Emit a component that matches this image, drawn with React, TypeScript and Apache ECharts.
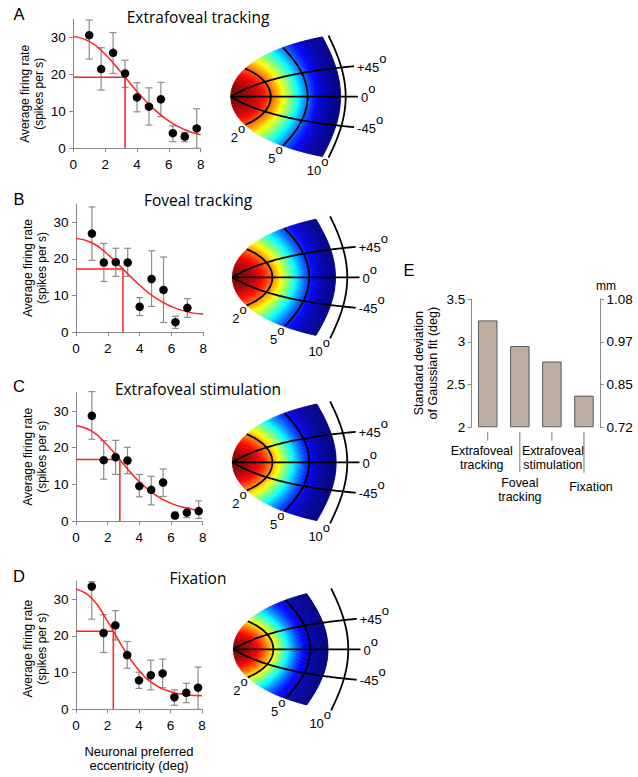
import React, { useEffect, useRef } from 'react';
import * as echarts from 'echarts';

// ---------------- data ----------------
const panelLetters = ['A', 'B', 'C', 'D'];
const panelTitles = ['Extrafoveal tracking', 'Foveal tracking', 'Extrafoveal stimulation', 'Fixation'];
const eccentricities = [1, 1.75, 2.5, 3.25, 4, 4.75, 5.5, 6.25, 7, 7.75];
const fitEccentricities = [0, 1, 2, 3, 4, 5, 6, 7, 8];
const rateTicks = [0, 10, 20, 30];

const ratesA = [30.7, 21.5, 25.9, 20.3, 13.8, 11.3, 13.3, 4.1, 3.2, 5.4];
const errLowA = [24.2, 15.8, 20.3, 16.5, 9.9, 6.3, 8.6, 1.8, 1.8, 0];
const errHighA = [34.8, 27.3, 31.4, 23.9, 17.8, 16.4, 17.9, 6.1, 4.3, 10.7];
const fitA = [30.3, 29.0, 25.5, 20.6, 15.4, 10.9, 7.4, 5.05, 3.65];

const ratesB = [26.9, 19.0, 19.1, 19.0, 6.9, 14.5, 11.5, 2.7, 6.6];
const errLowB = [19.6, 13.8, 15.2, 15.2, 4.5, 7.0, 2.6, 1.0, 4.0];
const errHighB = [34.2, 24.2, 22.9, 22.9, 9.4, 22.2, 20.5, 4.3, 9.1];
const fitB = [25.6, 24.4, 21.2, 17.0, 12.8, 9.3, 6.95, 5.5, 4.9];

const ratesC = [28.7, 16.6, 17.4, 16.5, 9.5, 8.5, 10.5, 1.5, 2.3, 2.7];
const errLowC = [22.3, 11.4, 12.7, 12.9, 6.6, 4.4, 6.7, 0.7, 0.9, 0.7];
const errHighC = [35.3, 21.9, 22.0, 20.1, 12.7, 12.2, 14.2, 2.4, 3.6, 5.5];
const fitC = [26.0, 24.5, 20.6, 15.5, 10.7, 7.1, 4.8, 3.5, 2.9];

const ratesD = [33.5, 20.8, 22.9, 14.8, 7.9, 9.3, 9.8, 3.3, 4.5, 5.9];
const errLowD = [24.6, 15.5, 18.9, 11.2, 5.7, 5.3, 5.9, 1.1, 1.8, 0];
const errHighD = [34.8, 25.8, 26.9, 18.5, 10.1, 13.4, 13.7, 5.3, 7.1, 11.5];
const fitD = [32.8, 30.3, 24.05, 16.7, 10.6, 6.75, 4.8, 4.0, 3.7];

// Gaussian fit: standard deviation (deg) and the fit's level at one SD
const sigmaDeg = [3.25, 2.95, 2.77, 2.37];
const sigmaLevel = [19.3, 17.2, 16.8, 21.3];
// eccentricity reached by the coloured population map
const mapExtentDeg = [9.2, 8.2, 8.3, 7.05];
const isoEccentricities = [2, 5, 10];
const isoDirections = [45, 0, -45];

const barCategories = ['Extrafoveal\ntracking', 'Foveal\ntracking', 'Extrafoveal\nstimulation', 'Fixation'];
const sdTicks = [2, 2.5, 3, 3.5];
const mmTickLabels = ['0.72', '0.85', '0.97', '1.08'];

// ---------------- styling / layout ----------------
const FONT = '"Liberation Sans", Arial, Helvetica, sans-serif';
const TITLE_FONT = '"Open Sans", "Noto Sans", sans-serif';
const AXIS_GRAY = '#8a8a8a';
const ERR_GRAY = '#8c8c8c';
const RED = '#ff2020';
const BAR_FILL = '#bdada2';

function jetHex(t: number) {
  const c = (x: number) => Math.round(255 * Math.max(0, Math.min(1, x)));
  const r = c(1.5 - Math.abs(4 * t - 3));
  const g = c(1.5 - Math.abs(4 * t - 2));
  const b = c(1.5 - Math.abs(4 * t - 1));
  return `rgb(${r},${g},${b})`;
}
const COLOR_GAMMA = 1.22;
const JET_SCALE = Array.from({ length: 49 }, (_, k) => jetHex(Math.pow(k / 48, COLOR_GAMMA)));

const plotGrids = [
  { left: 73.3, top: 19.3, width: 127.4, height: 129 },
  { left: 76, top: 204, width: 127.3, height: 128 },
  { left: 76, top: 392.7, width: 126.7, height: 128.3 },
  { left: 76, top: 581, width: 126, height: 128.3 },
];
const yNameShift = [20, 0, 0, 7];
const mapVertices = [
  [230.7, 96.7],
  [232.3, 277.3],
  [232.3, 462.3],
  [233.3, 649.3],
];
const U_SCALE = 56; // px per mm (rostro-caudal)
const V_SCALE = 26.5; // px per mm (medio-lateral)
const U_RANGE = [0, 2.6];
const V_RANGE = [-2.9, 2.9];
const BAND_STEP = 0.1;
const DIR_LINE_LEN = 12.2;
const letterY = [14.2, 199, 385.8, 576];
const titleY = [16.7, 200.3, 388.7, 577.5];
const barLabelDx = [-6, 0, 1, 7];
const barLabelDy = [30.5, 62.5, 30.5, 59.4];
const leaderLen = [13.4, 45, 13.4, 45.5];

function scMap(R: number, phiDeg: number): number[] {
  const p = (phiDeg * Math.PI) / 180;
  const x = R * Math.cos(p) + 3;
  const y = R * Math.sin(p);
  return [1.4 * Math.log(Math.hypot(x, y) / 3), 1.8 * Math.atan2(y, x)];
}

function buildBands(sigma: number, extent: number) {
  const n = Math.ceil(extent / BAND_STEP - 1e-6);
  const rows: number[][] = [];
  for (let k = 0; k < n; k++) {
    const r0 = k * BAND_STEP;
    const r1 = Math.min((k + 1) * BAND_STEP, extent);
    const mid = (r0 + r1) / 2;
    rows.push([r0, r1, Math.exp(-(mid * mid) / (2 * sigma * sigma))]);
  }
  return rows;
}

const panels = [
  { rates: ratesA, low: errLowA, high: errHighA, fit: fitA },
  { rates: ratesB, low: errLowB, high: errHighB, fit: fitB },
  { rates: ratesC, low: errLowC, high: errHighC, fit: fitC },
  { rates: ratesD, low: errLowD, high: errHighD, fit: fitD },
];

function buildOption() {
  const grid: any[] = [];
  const xAxis: any[] = [];
  const yAxis: any[] = [];
  const series: any[] = [];
  const bandSeries: number[] = [];

  panels.forEach((p, i) => {
    grid.push({ ...plotGrids[i], containLabel: false });
    xAxis.push({
      gridIndex: i,
      type: 'value',
      min: 0,
      max: 8,
      interval: 2,
      axisLine: { lineStyle: { color: AXIS_GRAY, width: 1 } },
      axisTick: { length: 4, lineStyle: { color: AXIS_GRAY } },
      axisLabel: { color: '#000', fontSize: 13.5, fontFamily: FONT, margin: 9 },
      splitLine: { show: false },
      ...(i === 3
        ? {
            name: 'Neuronal preferred\neccentricity (deg)',
            nameLocation: 'middle',
            nameGap: 35,
            nameTextStyle: { color: '#000', fontSize: 13, fontFamily: FONT, lineHeight: 14 },
          }
        : {}),
    });
    yAxis.push({
      gridIndex: i,
      type: 'value',
      min: 0,
      max: 35,
      interval: 10,
      axisLine: { show: true, lineStyle: { color: AXIS_GRAY, width: 1 } },
      axisTick: { show: true, length: 4, customValues: rateTicks, lineStyle: { color: AXIS_GRAY } },
      axisLabel: { color: '#000', fontSize: 13.5, fontFamily: FONT, margin: 7.5, customValues: rateTicks },
      splitLine: { show: false },
      name: 'Average firing rate\n(spikes per s)',
      nameLocation: 'middle',
      nameRotate: 90,
      nameGap: 27,
      nameTextStyle: {
        color: '#000',
        fontSize: 12,
        fontFamily: FONT,
        lineHeight: 14,
        padding: [0, yNameShift[i], 0, 0],
      },
    });

    const ecc = eccentricities.slice(0, p.rates.length);
    series.push({
      type: 'custom',
      xAxisIndex: i,
      yAxisIndex: i,
      z: 2,
      data: ecc.map((x, k) => [x, p.low[k], p.high[k]]),
      renderItem: (_params: any, api: any) => {
        const lo = api.coord([api.value(0), api.value(1)]);
        const hi = api.coord([api.value(0), api.value(2)]);
        const w = 3.5;
        const st = { stroke: ERR_GRAY, lineWidth: 1.2 };
        return {
          type: 'group',
          children: [
            { type: 'line', shape: { x1: lo[0], y1: lo[1], x2: hi[0], y2: hi[1] }, style: st },
            { type: 'line', shape: { x1: hi[0] - w, y1: hi[1], x2: hi[0] + w, y2: hi[1] }, style: st },
            { type: 'line', shape: { x1: lo[0] - w, y1: lo[1], x2: lo[0] + w, y2: lo[1] }, style: st },
          ],
        };
      },
    });
    series.push({
      type: 'line',
      xAxisIndex: i,
      yAxisIndex: i,
      z: 3,
      smooth: 0.5,
      symbol: 'none',
      data: fitEccentricities.map((x, k) => [x, p.fit[k]]),
      lineStyle: { color: RED, width: 1.5 },
    });
    series.push({
      type: 'line',
      xAxisIndex: i,
      yAxisIndex: i,
      z: 3,
      symbol: 'none',
      data: [
        [0, sigmaLevel[i]],
        [sigmaDeg[i], sigmaLevel[i]],
        [sigmaDeg[i], 0],
      ],
      lineStyle: { color: RED, width: 1.5 },
    });
    series.push({
      type: 'scatter',
      xAxisIndex: i,
      yAxisIndex: i,
      z: 4,
      symbolSize: 8.5,
      data: ecc.map((x, k) => [x, p.rates[k]]),
      itemStyle: { color: '#000', opacity: 1 },
    });
  });

  mapVertices.forEach(([vx, vy], i) => {
    const gi = 4 + i;
    grid.push({
      left: vx - U_RANGE[0] * U_SCALE,
      top: vy - V_RANGE[1] * V_SCALE,
      width: (U_RANGE[1] - U_RANGE[0]) * U_SCALE,
      height: (V_RANGE[1] - V_RANGE[0]) * V_SCALE,
    });
    xAxis.push({ gridIndex: gi, type: 'value', min: U_RANGE[0], max: U_RANGE[1], show: false });
    yAxis.push({ gridIndex: gi, type: 'value', min: V_RANGE[0], max: V_RANGE[1], show: false });

    bandSeries.push(series.length);
    series.push({
      type: 'custom',
      xAxisIndex: gi,
      yAxisIndex: gi,
      z: 1,
      data: buildBands(sigmaDeg[i], mapExtentDeg[i]),
      renderItem: (_params: any, api: any) => {
        const r0 = api.value(0);
        const r1 = api.value(1);
        const pts: number[][] = [];
        for (let phi = -90; phi <= 90; phi += 3) pts.push(api.coord(scMap(r0, phi)));
        for (let phi = 90; phi >= -90; phi -= 3) pts.push(api.coord(scMap(r1, phi)));
        const c = api.visual('color');
        return { type: 'polygon', shape: { points: pts }, style: { fill: c, stroke: c, lineWidth: 0.6 } };
      },
    });

    const lineData = [
      ...isoEccentricities.map((e) => [0, e]),
      ...isoDirections.map((d) => [1, d]),
    ];
    series.push({
      type: 'custom',
      xAxisIndex: gi,
      yAxisIndex: gi,
      z: 5,
      data: lineData,
      renderItem: (_params: any, api: any) => {
        const kind = api.value(0);
        const val = api.value(1);
        const pts: number[][] = [];
        let tx = 0;
        let ty = 0;
        let align = 'left';
        let label = '';
        if (kind === 0) {
          for (let phi = -90; phi <= 90; phi += 2) pts.push(api.coord(scMap(val, phi)));
          tx = pts[0][0];
          ty = pts[0][1] + 13;
          align = 'right';
          label = `${val}{o|o}`;
        } else {
          for (let r = 0; r <= DIR_LINE_LEN + 1e-6; r += 0.2) pts.push(api.coord(scMap(r, val)));
          const end = pts[pts.length - 1];
          tx = end[0] + 3;
          ty = end[1] + 1;
          align = 'left';
          label = `${val > 0 ? '+' : ''}${val}{o|o}`;
        }
        return {
          type: 'group',
          children: [
            { type: 'polyline', shape: { points: pts }, style: { stroke: '#000', lineWidth: 1.8, fill: null } },
            {
              type: 'text',
              x: tx,
              y: ty,
              style: {
                text: label,
                fill: '#000',
                fontSize: 13,
                fontFamily: FONT,
                align,
                verticalAlign: 'middle',
                rich: { o: { fontSize: 13, fontFamily: FONT, fill: '#000', padding: [0, 0, 18, 0] } },
              },
            },
          ],
        };
      },
    });
  });

  // ---- panel E ----
  grid.push({ left: 471.7, top: 299, width: 128.3, height: 128.3 });
  xAxis.push({
    gridIndex: 8,
    type: 'category',
    data: barCategories,
    axisLine: { show: false },
    axisTick: { show: false },
    axisLabel: { show: false },
    splitLine: { show: false },
  });
  yAxis.push({
    gridIndex: 8,
    type: 'value',
    position: 'left',
    min: 2,
    max: 3.5,
    interval: 0.5,
    startValue: 2,
    axisLine: { show: true, lineStyle: { color: AXIS_GRAY, width: 1 } },
    axisTick: { show: true, length: 4, lineStyle: { color: AXIS_GRAY } },
    axisLabel: { color: '#000', fontSize: 13.5, fontFamily: FONT, margin: 6.5, customValues: sdTicks },
    splitLine: { show: false },
    name: 'Standard deviation\nof Gaussian fit (deg)',
    nameLocation: 'middle',
    nameRotate: 90,
    nameGap: 31.5,
    nameTextStyle: { color: '#000', fontSize: 12.5, fontFamily: FONT, lineHeight: 14 },
  });
  yAxis.push({
    gridIndex: 8,
    type: 'value',
    position: 'right',
    min: 2,
    max: 3.5,
    interval: 0.5,
    axisLine: { show: true, lineStyle: { color: AXIS_GRAY, width: 1 } },
    axisTick: { show: true, length: 4, lineStyle: { color: AXIS_GRAY } },
    axisLabel: {
      color: '#000',
      fontSize: 13.5,
      fontFamily: FONT,
      margin: 6.5,
      formatter: (v: number) => mmTickLabels[Math.round((v - 2) / 0.5)] ?? '',
    },
    splitLine: { show: false },
  });
  series.push({
    type: 'bar',
    xAxisIndex: 8,
    yAxisIndex: 8,
    data: sigmaDeg,
    barWidth: 19.5,
    itemStyle: { color: BAR_FILL, borderColor: '#5a5a5a', borderWidth: 1 },
  });
  series.push({
    type: 'custom',
    xAxisIndex: 8,
    yAxisIndex: 8,
    z: 5,
    data: barCategories.map((_c, k) => [k, 2]),
    renderItem: (params: any, api: any) => {
      const k = params.dataIndex;
      const base = api.coord([api.value(0), 2]);
      return {
        type: 'group',
        children: [
          {
            type: 'line',
            shape: { x1: base[0], y1: base[1] + 4.4, x2: base[0], y2: base[1] + leaderLen[k] },
            style: { stroke: '#777', lineWidth: 1 },
          },
          {
            type: 'text',
            x: base[0] + barLabelDx[k],
            y: base[1] + barLabelDy[k],
            style: {
              text: barCategories[k],
              fill: '#000',
              fontSize: 12.4,
              fontFamily: FONT,
              lineHeight: 13.6,
              align: 'center',
              verticalAlign: 'middle',
            },
          },
        ],
      };
    },
  });

  const graphic: any[] = [
    ...panelLetters.map((t, i) => ({
      type: 'text',
      x: 19,
      y: letterY[i],
      style: { text: t, fill: '#000', fontSize: 16.5, fontFamily: FONT, align: 'center', verticalAlign: 'middle' },
    })),
    {
      type: 'text',
      x: 409,
      y: 270,
      style: { text: 'E', fill: '#000', fontSize: 16.5, fontFamily: FONT, align: 'center', verticalAlign: 'middle' },
    },
    ...panelTitles.map((t, i) => ({
      type: 'text',
      x: 198,
      y: titleY[i],
      style: { text: t, fill: '#000', fontSize: 15.5, fontFamily: TITLE_FONT, align: 'center', verticalAlign: 'middle' },
    })),
    {
      type: 'text',
      x: 606,
      y: 286,
      style: { text: 'mm', fill: '#000', fontSize: 12, fontFamily: FONT, align: 'center', verticalAlign: 'middle' },
    },
  ];

  return {
    animation: false,
    backgroundColor: '#ffffff',
    grid,
    xAxis,
    yAxis,
    series,
    graphic,
    visualMap: {
      type: 'continuous',
      show: false,
      min: 0,
      max: 1,
      dimension: 2,
      seriesIndex: bandSeries,
      inRange: { color: JET_SCALE },
    },
  };
}

export default function App() {
  const ref = useRef<HTMLDivElement>(null);
  useEffect(() => {
    if (!ref.current) return;
    const chart = echarts.init(ref.current, null, { renderer: 'svg' });
    chart.setOption(buildOption() as any);
    return () => chart.dispose();
  }, []);
  return (
    <div
      ref={ref}
      style={{ position: 'absolute', left: 0, top: 0, width: 638, height: 777, background: '#fff' }}
    />
  );
}
